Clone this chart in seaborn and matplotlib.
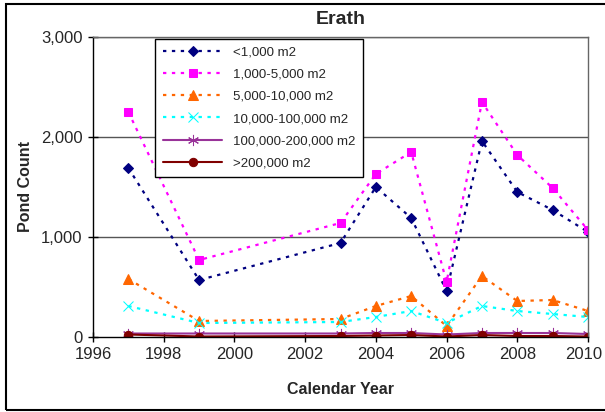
#packages
import pandas as pd
import numpy as np
import seaborn as sns
import matplotlib.pyplot as plt
import matplotlib.transforms as mtransforms
from matplotlib.patches import Rectangle
from matplotlib.ticker import FuncFormatter

years = [1997, 1999, 2003, 2004, 2005, 2006, 2007, 2008, 2009, 2010]
lt_1k = [1690, 570, 940, 1500, 1190, 460, 1960, 1450, 1270, 1050]
k1_5k = [2250, 770, 1140, 1630, 1850, 550, 2350, 1820, 1490, 1070]
k5_10k = [580, 160, 180, 310, 410, 110, 610, 360, 370, 260]
k10_100k = [310, 140, 150, 200, 260, 140, 310, 260, 230, 200]
k100_200k = [35, 35, 35, 40, 40, 25, 40, 40, 40, 30]
gt_200k = [25, 5, 10, 15, 20, 5, 20, 10, 10, 5]

labels = ['<1,000 m2', '1,000-5,000 m2', '5,000-10,000 m2',
          '10,000-100,000 m2', '100,000-200,000 m2', '>200,000 m2']
series = [lt_1k, k1_5k, k5_10k, k10_100k, k100_200k, gt_200k]
colors = ['#000080', '#FF00FF', '#FF6600', '#00FFFF', '#993399', '#800000']
markers = ['D', 's', '^', 'x', (6, 2, 0), 'o']
msizes = [5, 6, 7, 7, 8, 6]
dashed = [True, True, True, True, False, False]

sns.set_style('white')
plt.rcParams['font.family'] = ['Liberation Sans', 'DejaVu Sans']

fig = plt.figure(figsize=(6.05, 4.12), dpi=100)
ax = fig.add_axes([93/605, 75/412, 495/605, 300/412])

for vals, lab, c, m, ms, d in zip(series, labels, colors, markers, msizes, dashed):
	sns.lineplot(x=years, y=vals, ax=ax, color=c, label=lab, marker=m,
		markersize=ms, markeredgecolor=c, markerfacecolor=c,
		linestyle=(0, (1.5, 2.5)) if d else '-', linewidth=1.6 if d else 1.5)

ax.set_xlim(1996, 2010)
ax.set_ylim(0, 3000)
ax.set_xticks(range(1996, 2011, 2))
ax.set_yticks([0, 1000, 2000, 3000])
ax.yaxis.set_major_formatter(FuncFormatter(lambda v, p: f'{int(v):,}'))
ax.tick_params(axis='both', labelsize=12, direction='inout', length=7,
	width=1, color='black', pad=4, bottom=True, left=True)
# last year label sits against the right edge, nudge it in a bit
last = ax.get_xticklabels()[-1]
last.set_transform(last.get_transform() + mtransforms.ScaledTranslation(-4/100, 0, fig.dpi_scale_trans))
for y in [1000, 2000, 3000]:
	ax.axhline(y, color='#555555', linewidth=1, zorder=0)
ax.spines['left'].set_color('black')
ax.spines['bottom'].set_color('black')
ax.spines['top'].set_color('#666666')
ax.spines['right'].set_color('#666666')
for s in ax.spines.values():
	s.set_linewidth(1)

ax.set_title('Erath', fontsize=14, fontweight='bold', pad=9)
ax.set_xlabel('Calendar Year', fontsize=11.5, fontweight='bold', labelpad=14)
ax.set_ylabel('Pond Count', fontsize=11.5, fontweight='bold', labelpad=6)

leg = ax.legend(loc='upper left', bbox_to_anchor=(62/495, 0.995), fontsize=9.5,
	frameon=True, fancybox=False, edgecolor='black', framealpha=1,
	handlelength=4.5, borderpad=0.6, labelspacing=0.75, borderaxespad=0)
leg.get_frame().set_linewidth(1)

fig.patches.append(Rectangle((6/605, 2/412), 1.2, 406/412, transform=fig.transFigure,
	fill=False, edgecolor='black', linewidth=1.5))

fig.savefig('out.png', dpi=100)
